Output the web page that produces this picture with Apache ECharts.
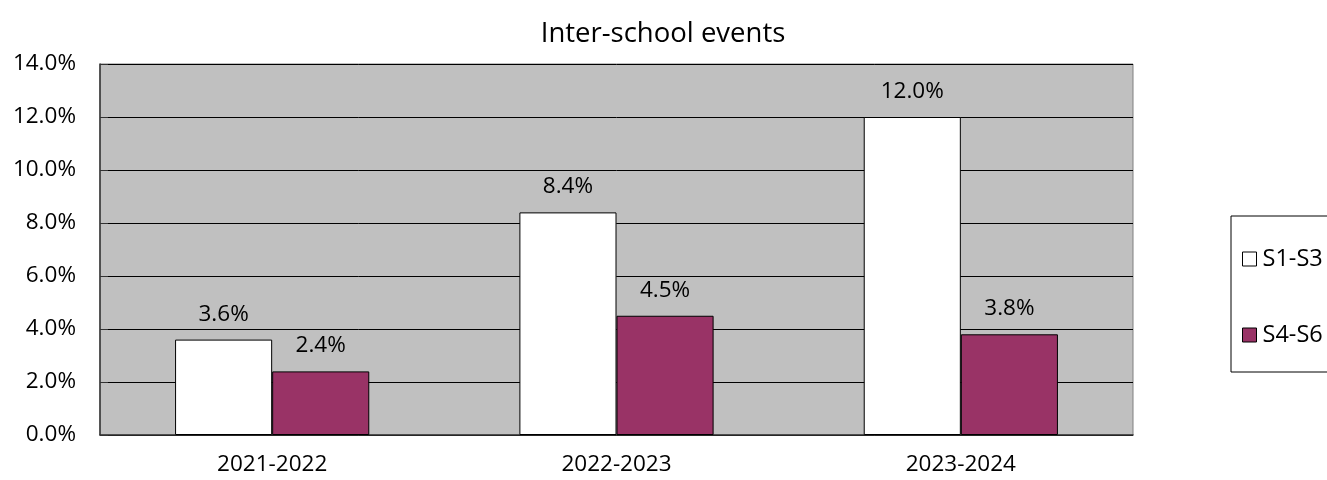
<!DOCTYPE html>
<html>
<head>
<meta charset="utf-8">
<script src="https://cdn.jsdelivr.net/npm/echarts@6/dist/echarts.min.js"></script>
<style>html,body{margin:0;padding:0;background:#fff}#c{width:1327px;height:480px}</style>
</head>
<body>
<div id="c"></div>
<script>
const categories = ['2021-2022', '2022-2023', '2023-2024'];
const seriesNames = ['S1-S3', 'S4-S6'];
const s1s3 = [3.6, 8.4, 12.0];
const s4s6 = [2.4, 4.5, 3.8];
const FONT = 'Open Sans';
const chart = echarts.init(document.getElementById('c'));
const mkSeries = (name, data, color) => ({
  name, type: 'bar', data,
  itemStyle: { color, borderColor: '#000', borderWidth: 1 },
  barGap: '0%', barCategoryGap: '43.6%',
  label: { show: true, position: 'top', distance: 14, color: '#000', fontFamily: FONT, fontSize: 22.5,
    formatter: p => p.value.toFixed(1) + '%' }
});
chart.setOption({
  animation: false,
  title: { text: 'Inter-school events', left: 658, textAlign: 'center', top: 15,
    textStyle: { fontFamily: FONT, fontSize: 27.5, fontWeight: 'normal', color: '#000' } },
  grid: { left: 100, right: 194, top: 64, bottom: 45, show: true, backgroundColor: '#c0c0c0', borderColor: '#808080', borderWidth: 1 },
  legend: {
    orient: 'vertical', left: 1231, top: 216, padding: [31, 30, 25, 11],
    borderColor: '#000', borderWidth: 1, itemGap: 52, itemWidth: 14, itemHeight: 14,
    icon: 'rect',
    textStyle: { fontFamily: FONT, fontSize: 23.5, color: '#000', padding: [0, 0, 0, 1] },
    data: seriesNames.map(n => ({ name: n, itemStyle: { borderColor: '#000', borderWidth: 1 } }))
  },
  xAxis: {
    type: 'category', data: categories,
    axisLine: { lineStyle: { color: '#333', width: 1.5 } },
    axisTick: { inside: true, length: 8, lineStyle: { color: '#555', width: 2 } },
    axisLabel: { fontFamily: FONT, fontSize: 22.5, color: '#000', margin: 18 }
  },
  yAxis: {
    type: 'value', min: 0, max: 14, interval: 2,
    axisLine: { show: true, lineStyle: { color: '#333', width: 1.5 } },
    axisTick: { show: true, inside: true, length: 8, lineStyle: { color: '#333' } },
    splitLine: { lineStyle: { color: '#000', width: 1 } },
    axisLabel: { fontFamily: FONT, fontSize: 22.5, color: '#000', margin: 24, formatter: v => v.toFixed(1) + '%' }
  },
  series: [mkSeries(seriesNames[0], s1s3, '#ffffff'), mkSeries(seriesNames[1], s4s6, '#993366')]
});
</script>
</body>
</html>
